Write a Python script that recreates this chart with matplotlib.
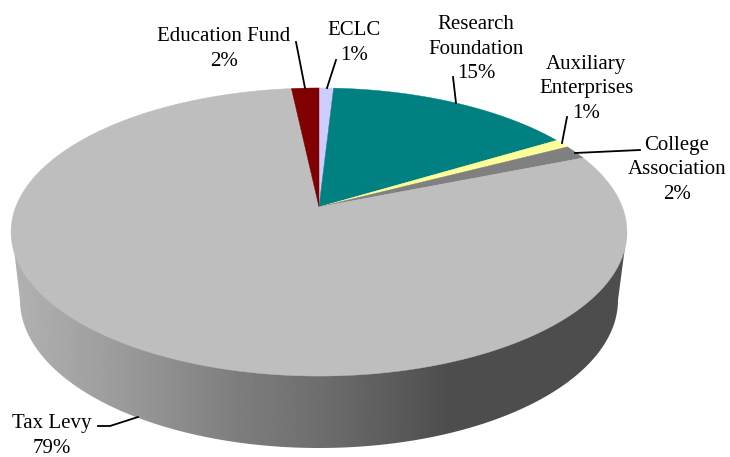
import numpy as np
import matplotlib
matplotlib.use("Agg")
import matplotlib.pyplot as plt
from matplotlib.patches import Polygon

plt.rcParams["font.family"] = ["Liberation Serif", "DejaVu Serif"]

# clockwise from 12 o'clock, shares as measured off the slices
categories = ["ECLC", "Research\nFoundation", "Auxiliary\nEnterprises", "College\nAssociation", "Tax Levy", "Education Fund"]
shares = [0.9, 15.4, 1.0, 1.6, 79.4, 1.7]
pct_labels = ["1%", "15%", "1%", "2%", "79%", "2%"]
colors = ["#ccccff", "#008080", "#ffff99", "#808080", "#bebebe", "#800000"]

label_pos = [(354, 43), (476, 49), (586, 89), (677, 170), (52, 436), (224, 49)]
leaders = [
    [(336, 60), (327, 88)],
    [(453, 77), (456, 103)],
    [(567, 117), (562, 143)],
    [(640, 150), (575, 153)],
    [(98, 426), (110, 426), (138, 417)],
    [(296, 42), (305, 88)],
]

# side gradient, x position (px) and grey level
grad_x = [12, 120, 240, 320, 400, 450, 627]
grad_grey = [178, 155, 125, 110, 90, 77, 77]

CX, CY = 319, 207   # apex of the slices
SX, SY, K = 303.3, 139.7, 0.1736   # perspective of the top disc


def disc_point(angle):
    # angle in radians, clockwise from top, projected on the tilted disc
    u, v = np.sin(angle), np.cos(angle)
    w = 1 + K * v
    return CX + SX * u / w, CY - SY * v / w


fig = plt.figure(figsize=(7.3, 4.57), dpi=100)
ax = fig.add_axes([0, 0, 1, 1])
ax.set_xlim(0, 730)
ax.set_ylim(457, 0)
ax.axis("off")

# side wall
t = np.linspace(np.pi, 0, 300)
low_x = 319 + 299 * np.cos(t)
low_y = 300 + 148 * np.sin(t)
side_pts = [(12, 232)] + list(zip(low_x, low_y)) + [(627, 232)]
side = Polygon(side_pts, closed=True, fc="none", ec="none")
ax.add_patch(side)
xs = np.arange(0, 731)
row = np.interp(xs, grad_x, grad_grey) / 255
img = ax.imshow(np.tile(row, (2, 1)), cmap="gray", vmin=0, vmax=1, extent=[0, 730, 457, 0], aspect="auto", zorder=1)
img.set_clip_path(side)
ax.set_xlim(0, 730)
ax.set_ylim(457, 0)

# top slices
edges = np.cumsum([0] + shares) / sum(shares) * 2 * np.pi
for i, col in enumerate(colors):
    a = np.linspace(edges[i], edges[i + 1], 400)
    px, py = disc_point(a)
    ax.fill(np.r_[CX, px], np.r_[CY, py], fc=col, ec=col, lw=0.3, zorder=2)

# labels and leader lines
for name, pct, pos, line in zip(categories, pct_labels, label_pos, leaders):
    ax.text(pos[0], pos[1], name + "\n" + pct, ha="center", va="center", fontsize=15, color="black", linespacing=1.38, zorder=4)
    lx, ly = zip(*line)
    ax.plot(lx, ly, color="black", lw=1.3, zorder=3)

fig.savefig("out.png", dpi=100)
